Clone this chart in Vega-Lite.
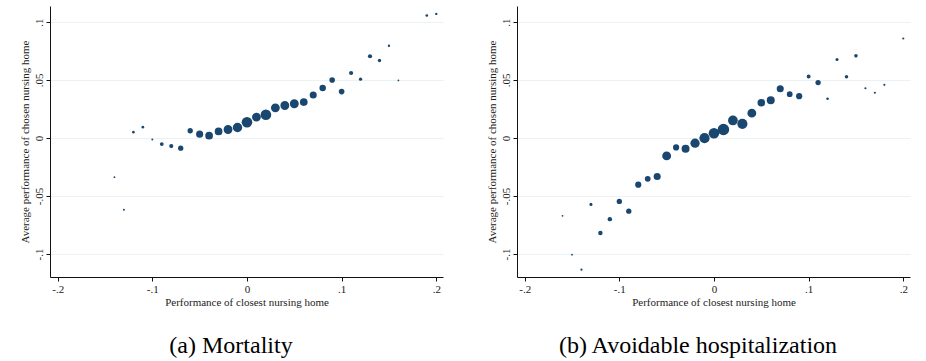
{
  "$schema": "https://vega.github.io/schema/vega-lite/v6.json",
  "background": "white",
  "padding": {"left": 19, "top": 6, "right": 5, "bottom": 0},
  "config": {
    "font": "Liberation Serif",
    "view": {"stroke": null},
    "concat": {"spacing": 43},
    "axis": {
      "domainColor": "#111111",
      "domainWidth": 1,
      "tickColor": "#111111",
      "tickSize": 4,
      "labelFont": "Liberation Serif",
      "labelFontSize": 11,
      "labelColor": "#222222",
      "labelPadding": 2,
      "titleFont": "Liberation Serif",
      "titleFontSize": 11,
      "titleFontWeight": "normal",
      "titleColor": "#222222",
      "titlePadding": 3,
      "gridColor": "#eaf2f3",
      "gridWidth": 1
    },
    "title": {
      "font": "Liberation Serif",
      "fontSize": 24,
      "fontWeight": "normal",
      "color": "#000000",
      "orient": "bottom",
      "anchor": "middle",
      "frame": "bounds",
      "offset": 27
    }
  },
  "datasets": {
    "mortality": [
      {"closest": -0.14, "chosen": -0.0338, "weight": 4},
      {"closest": -0.13, "chosen": -0.0619, "weight": 5},
      {"closest": -0.12, "chosen": 0.005, "weight": 9},
      {"closest": -0.11, "chosen": 0.0093, "weight": 9},
      {"closest": -0.10, "chosen": -0.0013, "weight": 5},
      {"closest": -0.09, "chosen": -0.0053, "weight": 18},
      {"closest": -0.08, "chosen": -0.007, "weight": 22},
      {"closest": -0.07, "chosen": -0.0088, "weight": 36},
      {"closest": -0.06, "chosen": 0.0062, "weight": 36},
      {"closest": -0.05, "chosen": 0.0033, "weight": 64},
      {"closest": -0.04, "chosen": 0.002, "weight": 76},
      {"closest": -0.03, "chosen": 0.0056, "weight": 76},
      {"closest": -0.02, "chosen": 0.0073, "weight": 100},
      {"closest": -0.01, "chosen": 0.009, "weight": 114},
      {"closest": 0.00, "chosen": 0.0136, "weight": 144},
      {"closest": 0.01, "chosen": 0.018, "weight": 100},
      {"closest": 0.02, "chosen": 0.020, "weight": 144},
      {"closest": 0.03, "chosen": 0.026, "weight": 100},
      {"closest": 0.04, "chosen": 0.028, "weight": 100},
      {"closest": 0.05, "chosen": 0.0295, "weight": 100},
      {"closest": 0.06, "chosen": 0.031, "weight": 76},
      {"closest": 0.07, "chosen": 0.037, "weight": 64},
      {"closest": 0.08, "chosen": 0.043, "weight": 53},
      {"closest": 0.09, "chosen": 0.050, "weight": 40},
      {"closest": 0.10, "chosen": 0.040, "weight": 40},
      {"closest": 0.11, "chosen": 0.056, "weight": 22},
      {"closest": 0.12, "chosen": 0.0507, "weight": 14},
      {"closest": 0.13, "chosen": 0.0705, "weight": 22},
      {"closest": 0.14, "chosen": 0.0668, "weight": 14},
      {"closest": 0.15, "chosen": 0.0795, "weight": 7},
      {"closest": 0.16, "chosen": 0.0496, "weight": 4},
      {"closest": 0.19, "chosen": 0.1056, "weight": 9},
      {"closest": 0.20, "chosen": 0.107, "weight": 7}
    ],
    "avoidable": [
      {"closest": -0.16, "chosen": -0.0671, "weight": 4},
      {"closest": -0.15, "chosen": -0.1007, "weight": 4},
      {"closest": -0.14, "chosen": -0.1136, "weight": 6},
      {"closest": -0.13, "chosen": -0.0573, "weight": 12},
      {"closest": -0.12, "chosen": -0.082, "weight": 25},
      {"closest": -0.11, "chosen": -0.070, "weight": 25},
      {"closest": -0.10, "chosen": -0.0547, "weight": 36},
      {"closest": -0.09, "chosen": -0.0631, "weight": 36},
      {"closest": -0.08, "chosen": -0.0403, "weight": 49},
      {"closest": -0.07, "chosen": -0.0352, "weight": 42},
      {"closest": -0.06, "chosen": -0.0332, "weight": 64},
      {"closest": -0.05, "chosen": -0.0155, "weight": 100},
      {"closest": -0.04, "chosen": -0.0082, "weight": 49},
      {"closest": -0.03, "chosen": -0.0093, "weight": 81},
      {"closest": -0.02, "chosen": -0.0045, "weight": 110},
      {"closest": -0.01, "chosen": -0.0002, "weight": 132},
      {"closest": 0.00, "chosen": 0.0041, "weight": 144},
      {"closest": 0.01, "chosen": 0.0073, "weight": 169},
      {"closest": 0.02, "chosen": 0.0151, "weight": 121},
      {"closest": 0.03, "chosen": 0.0122, "weight": 132},
      {"closest": 0.04, "chosen": 0.0214, "weight": 100},
      {"closest": 0.05, "chosen": 0.0303, "weight": 72},
      {"closest": 0.06, "chosen": 0.0326, "weight": 81},
      {"closest": 0.07, "chosen": 0.0424, "weight": 64},
      {"closest": 0.08, "chosen": 0.0378, "weight": 42},
      {"closest": 0.09, "chosen": 0.036, "weight": 49},
      {"closest": 0.10, "chosen": 0.053, "weight": 20},
      {"closest": 0.11, "chosen": 0.0478, "weight": 36},
      {"closest": 0.12, "chosen": 0.0338, "weight": 9},
      {"closest": 0.13, "chosen": 0.0677, "weight": 12},
      {"closest": 0.14, "chosen": 0.0527, "weight": 16},
      {"closest": 0.15, "chosen": 0.0708, "weight": 16},
      {"closest": 0.16, "chosen": 0.0429, "weight": 6},
      {"closest": 0.17, "chosen": 0.039, "weight": 6},
      {"closest": 0.18, "chosen": 0.0458, "weight": 6},
      {"closest": 0.20, "chosen": 0.0858, "weight": 6}
    ]
  },
  "hconcat": [
    {
      "data": {"name": "mortality"},
      "title": {"text": "(a) Mortality"},
      "width": 393,
      "height": 271,
      "mark": {"type": "circle", "color": "#1a476f", "opacity": 1},
      "encoding": {
        "x": {
          "field": "closest", "type": "quantitative",
          "scale": {"domain": [-0.2081, 0.2071], "nice": false, "zero": false},
          "axis": {
            "title": "Performance of closest nursing home",
            "values": [-0.2, -0.1, 0, 0.1, 0.2],
            "grid": false,
            "titlePadding": 2,
            "labelExpr": "datum.value == 0 ? '0' : (datum.value < 0 ? '-' : '') + replace(format(abs(datum.value), '.2~f'), '0.', '.')"
          }
        },
        "y": {
          "field": "chosen", "type": "quantitative",
          "scale": {"domain": [-0.1199, 0.1138], "nice": false, "zero": false},
          "axis": {
            "title": "Average performance of chosen nursing home",
            "values": [-0.1, -0.05, 0, 0.05, 0.1],
            "grid": true,
            "labelAngle": -90,
            "labelAlign": "center",
            "labelBaseline": "bottom",
            "labelExpr": "datum.value == 0 ? '0' : (datum.value < 0 ? '-' : '') + replace(format(abs(datum.value), '.2~f'), '0.', '.')"
          }
        },
        "size": {
          "field": "weight", "type": "quantitative",
          "scale": {"domain": [0, 144], "range": [0, 113]},
          "legend": null
        }
      }
    },
    {
      "data": {"name": "avoidable"},
      "title": {"text": "(b) Avoidable hospitalization"},
      "width": 393,
      "height": 271,
      "mark": {"type": "circle", "color": "#1a476f", "opacity": 1},
      "encoding": {
        "x": {
          "field": "closest", "type": "quantitative",
          "scale": {"domain": [-0.2081, 0.2071], "nice": false, "zero": false},
          "axis": {
            "title": "Performance of closest nursing home",
            "values": [-0.2, -0.1, 0, 0.1, 0.2],
            "grid": false,
            "titlePadding": 2,
            "labelExpr": "datum.value == 0 ? '0' : (datum.value < 0 ? '-' : '') + replace(format(abs(datum.value), '.2~f'), '0.', '.')"
          }
        },
        "y": {
          "field": "chosen", "type": "quantitative",
          "scale": {"domain": [-0.1199, 0.1138], "nice": false, "zero": false},
          "axis": {
            "title": "Average performance of chosen nursing home",
            "values": [-0.1, -0.05, 0, 0.05, 0.1],
            "grid": true,
            "labelAngle": -90,
            "labelAlign": "center",
            "labelBaseline": "bottom",
            "labelExpr": "datum.value == 0 ? '0' : (datum.value < 0 ? '-' : '') + replace(format(abs(datum.value), '.2~f'), '0.', '.')"
          }
        },
        "size": {
          "field": "weight", "type": "quantitative",
          "scale": {"domain": [0, 144], "range": [0, 113]},
          "legend": null
        }
      }
    }
  ]
}
